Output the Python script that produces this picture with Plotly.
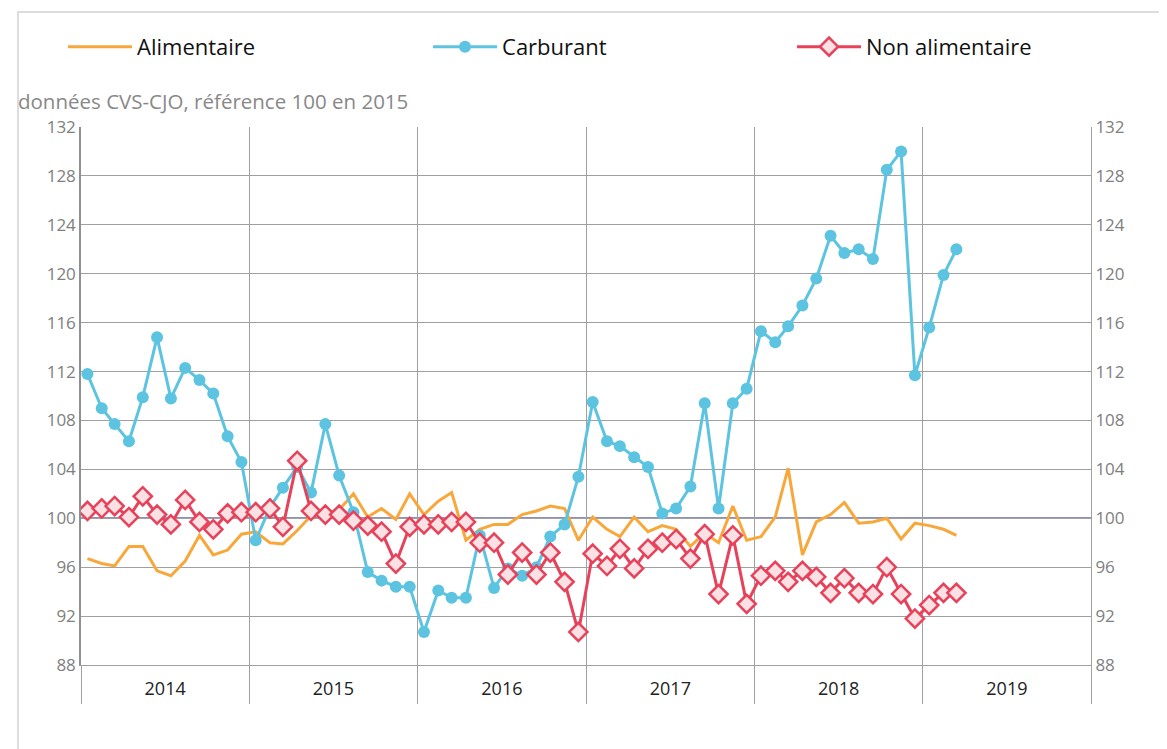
import pandas as pd
import plotly.graph_objects as go

# Monthly dates, Jan 2014 .. Mar 2019 (mid-month)
months = pd.date_range("2014-01-01", "2019-03-01", freq="MS") + pd.Timedelta(days=14)

alimentaire = [
    96.7, 96.3, 96.1, 97.7, 97.7, 95.7, 95.3, 96.5, 98.6, 97.0, 97.4, 98.7,
    98.9, 98.0, 97.9, 99.0, 100.2, 100.4, 100.7, 102.0, 100.1, 100.8, 99.9, 102.0,
    100.3, 101.4, 102.1, 98.2, 99.1, 99.5, 99.5, 100.3, 100.6, 101.0, 100.8, 98.2,
    100.1, 99.1, 98.5, 100.1, 98.9, 99.4, 99.1, 97.7, 98.8, 98.0, 101.0, 98.2,
    98.5, 100.1, 104.1, 97.0, 99.7, 100.3, 101.3, 99.6, 99.7, 100.0, 98.3, 99.6,
    99.4, 99.1, 98.6,
]
carburant = [
    111.8, 109.0, 107.7, 106.3, 109.9, 114.8, 109.8, 112.3, 111.3, 110.2, 106.7, 104.6,
    98.2, 100.9, 102.5, 104.2, 102.1, 107.7, 103.5, 100.5, 95.6, 94.9, 94.4, 94.4,
    90.7, 94.1, 93.5, 93.5, 98.6, 94.3, 95.9, 95.3, 96.0, 98.5, 99.5, 103.4,
    109.5, 106.3, 105.9, 105.0, 104.2, 100.4, 100.8, 102.6, 109.4, 100.8, 109.4, 110.6,
    115.3, 114.4, 115.7, 117.4, 119.6, 123.1, 121.7, 122.0, 121.2, 128.5, 130.0, 111.7,
    115.6, 119.9, 122.0,
]
non_alimentaire = [
    100.6, 100.8, 101.0, 100.1, 101.8, 100.3, 99.5, 101.5, 99.7, 99.1, 100.4, 100.5,
    100.5, 100.8, 99.3, 104.7, 100.6, 100.3, 100.3, 99.8, 99.4, 98.9, 96.3, 99.3,
    99.5, 99.5, 99.7, 99.7, 98.0, 98.0, 95.4, 97.2, 95.4, 97.2, 94.8, 90.7,
    97.1, 96.1, 97.5, 95.9, 97.5, 98.0, 98.3, 96.7, 98.7, 93.8, 98.6, 93.0,
    95.3, 95.7, 94.8, 95.7, 95.2, 93.9, 95.1, 93.9, 93.8, 96.0, 93.8, 91.8,
    92.9, 93.9, 93.9,
]
y_ticks = [88, 92, 96, 100, 104, 108, 112, 116, 120, 124, 128, 132]

ORANGE = "#F8A83B"
BLUE = "#5CC4E0"
RED = "#E8425B"
FONT = "Open Sans"

fig = go.Figure()
fig.add_trace(go.Scatter(x=months, y=alimentaire, name="Alimentaire", mode="lines",
                         line=dict(color=ORANGE, width=3), legend="legend"))
fig.add_trace(go.Scatter(x=months, y=carburant, name="Carburant", mode="lines+markers",
                         line=dict(color=BLUE, width=3),
                         marker=dict(symbol="circle", size=12, color=BLUE), legend="legend2"))
fig.add_trace(go.Scatter(x=months, y=non_alimentaire, name="Non alimentaire", mode="lines+markers",
                         line=dict(color=RED, width=3),
                         marker=dict(symbol="diamond", size=14, color="#FBE0E4",
                                     line=dict(color=RED, width=2.5)), legend="legend3"))
# invisible trace for right axis
fig.add_trace(go.Scatter(x=[months[0]], y=[100], yaxis="y2", showlegend=False,
                         mode="markers", marker=dict(opacity=0), hoverinfo="skip"))

fig.add_shape(type="line", xref="paper", yref="y", x0=0, x1=1, y0=100, y1=100,
              line=dict(color="#1F2578", width=1.3), layer="below")
fig.add_shape(type="rect", xref="paper", yref="paper", x0=-0.0624, x1=1.2, y0=-0.3, y1=1.2138,
              line=dict(color="#DDDDDD", width=2), layer="below")

fig.add_annotation(text="données CVS-CJO, référence 100 en 2015", xref="paper", yref="paper",
                   x=-0.0644, y=1.048, xanchor="left", yanchor="middle", showarrow=False,
                   font=dict(family=FONT, size=20.5, color="#888888"))

axis_font = dict(family=FONT, size=17, color="#808080")
legend_common = dict(orientation="h", y=1.149, xanchor="left", yanchor="middle",
                     font=dict(family=FONT, size=22, color="#111111"),
                     itemwidth=64, bgcolor="rgba(0,0,0,0)")
fig.update_layout(
    width=1167, height=749,
    margin=dict(l=73, r=84, t=119, b=92),
    paper_bgcolor="white", plot_bgcolor="white",
    font=dict(family=FONT),
    showlegend=True,
    legend=dict(x=-0.0178, **legend_common),
    legend2=dict(x=0.3436, **legend_common),
    legend3=dict(x=0.704, **legend_common),
    xaxis=dict(type="date", range=["2014-01-01", "2020-01-01"],
               dtick="M12", tick0="2014-01-01", tickformat="%Y", ticklabelmode="period",
               showgrid=True, gridcolor="#A0A0A0", gridwidth=1,
               ticks="outside", ticklen=38, tickcolor="#A0A0A0", tickwidth=1,
               ticklabelstandoff=-31,
               showline=True, linecolor="#A0A0A0", linewidth=1, mirror=False,
               tickfont=dict(family=FONT, size=18, color="#222222"), zeroline=False),
    yaxis=dict(range=[88, 132], tickvals=y_ticks, showgrid=True, gridcolor="#A0A0A0",
               gridwidth=1, showline=True, linecolor="#909090", linewidth=1.5,
               tickfont=axis_font, zeroline=False, ticks="", fixedrange=True),
    yaxis2=dict(range=[88, 132], tickvals=y_ticks, overlaying="y", side="right",
                showgrid=False, showline=True, linecolor="#A0A0A0", linewidth=1,
                tickfont=axis_font, zeroline=False),
)

fig.write_html("out.html")
